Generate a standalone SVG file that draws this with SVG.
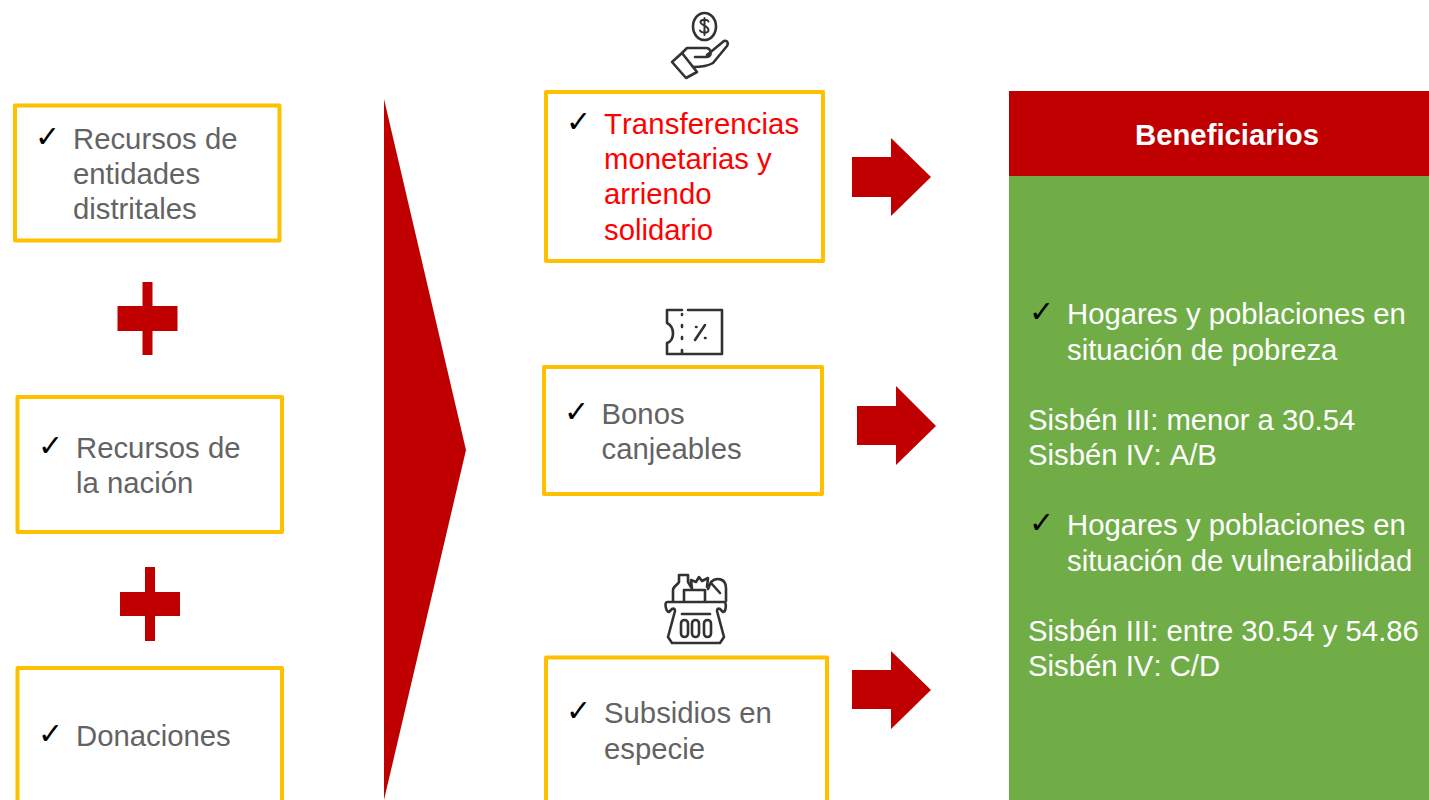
<svg xmlns="http://www.w3.org/2000/svg" width="1429" height="800" viewBox="0 0 1429 800">
<defs><filter id="soft" x="-10%" y="-10%" width="120%" height="120%"><feGaussianBlur stdDeviation="0.6"/></filter></defs>
<style>
.box{fill:#fff;stroke:#ffc000;stroke-width:4;stroke-linejoin:round}
.red{fill:#c00000}
text{font-family:"Liberation Sans",Arial,sans-serif;font-size:29.3px;font-kerning:none}
.g{fill:#636363}
.w{fill:#fff}
.r{fill:#ff0000}
.c{font-family:"DejaVu Sans",sans-serif;font-size:30px;fill:#000}
.i{fill:none;stroke:#333;stroke-width:2.6;stroke-linecap:round;stroke-linejoin:round;filter:url(#soft)}
</style>
<rect width="1429" height="800" fill="#fff"/>
<g id="connectors">
<polygon class="red" points="384,99 466,450 384,800"/>
<polygon class="red" points="852,157 891,157 891,138 931,177 891,216 891,197 852,197"/>
<polygon class="red" points="857,406 896,406 896,386 936,426 896,465 896,445 857,445"/>
<polygon class="red" points="852,670 891,670 891,651 931,690 891,729 891,709 852,709"/>
</g>
<g id="node-entidades">
<rect class="box" x="15" y="105.500" width="264.500" height="135"/>
<text class="c" x="35" y="147">✓</text>
<text class="g" x="73" y="149">Recursos de</text>
<text class="g" x="73" y="184">entidades</text>
<text class="g" x="73" y="219">distritales</text>
</g>
<g id="plus-1"><polygon class="red" points="142.500,282 152.500,282 152.500,306 177.500,306 177.500,331 152.500,331 152.500,355 142.500,355 142.500,331 117.500,331 117.500,306 142.500,306"/></g>
<g id="node-nacion">
<rect class="box" x="17.500" y="397" width="264.500" height="135"/>
<text class="c" x="38" y="456">✓</text>
<text class="g" x="76" y="458">Recursos de</text>
<text class="g" x="76" y="493">la nación</text>
</g>
<g id="plus-2"><polygon class="red" points="145,567 155,567 155,592 180,592 180,616 155,616 155,641 145,641 145,616 120,616 120,592 145,592"/></g>
<g id="node-donaciones">
<rect class="box" x="17.500" y="668" width="264.500" height="150"/>
<text class="c" x="38" y="744">✓</text>
<text class="g" x="76" y="746">Donaciones</text>
</g>
<g id="icon-mano" class="i">
<ellipse cx="704.500" cy="26.500" rx="11.500" ry="13.500"/>
<path d="M704.500 18v17M708.500 21.500c-1-2.500-7.500-2.500-8 .5s8 4 8 8-7.500 3-8.500 .5" stroke-width="2"/>
<path d="M682 53l5-5h19c5 0 7 8 1 9h-12M707 55l17-14c3-1 5 2 3 5l-14 17c-5 3-14 4-20 4"/>
<path d="M672 62l10-9 15 19-11 6z"/>
</g>
<g id="node-transferencias">
<rect class="box" x="546" y="92" width="277" height="169"/>
<text class="c" x="566" y="132">✓</text>
<text class="r" x="604" y="134" letter-spacing=".1">Transferencias</text>
<text class="r" x="604" y="169">monetarias y</text>
<text class="r" x="604" y="204">arriendo</text>
<text class="r" x="604" y="240">solidario</text>
</g>
<g id="icon-bono" class="i">
<path d="M682 310h-15v13c8 4 8 17 0 20v11h55v-44h-34"/>
<path d="M682 314v1M682 325v2M682 337v2M682 350v3"/>
<path d="M705 325l-10 15M696 327h.5M705 338h.5"/>
</g>
<g id="node-bonos">
<rect class="box" x="544" y="367" width="278" height="127"/>
<text class="c" x="564" y="422">✓</text>
<text class="g" x="601.500" y="424">Bonos</text>
<text class="g" x="601.500" y="459">canjeables</text>
</g>
<g id="icon-canasta" class="i">
<path d="M673 601v-11c0-4 5-5 6-8v-7h9v7l3 5M684 601v-11h21v11M692 589l-1-9 5 2 3-5 3 4 6-3-1 9M708 589l3-7c5-5 15-4 15 6v13M711 583l9 10"/>
<path d="M668 602h56c3 0 2 10-1 10l-3-3c-2-1-3 0-3 2l7 26-4 6-5 0h-38l-5 0-4-6 7-26c0-2-1-3-3-2l-3 3c-3 0-5-10-2-10zM682 614h28M675 643h40"/>
<rect x="681" y="620" width="7" height="17" rx="3.500"/><rect x="692" y="620" width="7" height="17" rx="3.500"/><rect x="704" y="620" width="7" height="17" rx="3.500"/>
</g>
<g id="node-subsidios">
<rect class="box" x="546" y="657.500" width="281" height="160"/>
<text class="c" x="566" y="721">✓</text>
<text class="g" x="604" y="723">Subsidios en</text>
<text class="g" x="604" y="759">especie</text>
</g>
<g id="node-beneficiarios">
<rect x="1009" y="176" width="420" height="624" fill="#70ad47"/>
<rect x="1009" y="91" width="420" height="85" fill="#c00000"/>
<text x="1227" y="145" text-anchor="middle" font-weight="700" class="w">Beneficiarios</text>
<text class="c" x="1029" y="322">✓</text>
<text class="w" x="1067" y="324">Hogares y poblaciones en</text>
<text class="w" x="1067" y="360">situación de pobreza</text>
<text class="w" x="1028" y="430">Sisbén III: menor a 30.54</text>
<text class="w" x="1028" y="465">Sisbén IV: A/B</text>
<text class="c" x="1029" y="533">✓</text>
<text class="w" x="1067" y="535">Hogares y poblaciones en</text>
<text class="w" x="1067" y="571">situación de vulnerabilidad</text>
<text class="w" x="1028" y="641">Sisbén III: entre 30.54 y 54.86</text>
<text class="w" x="1028" y="676">Sisbén IV: C/D</text>
</g>
</svg>
